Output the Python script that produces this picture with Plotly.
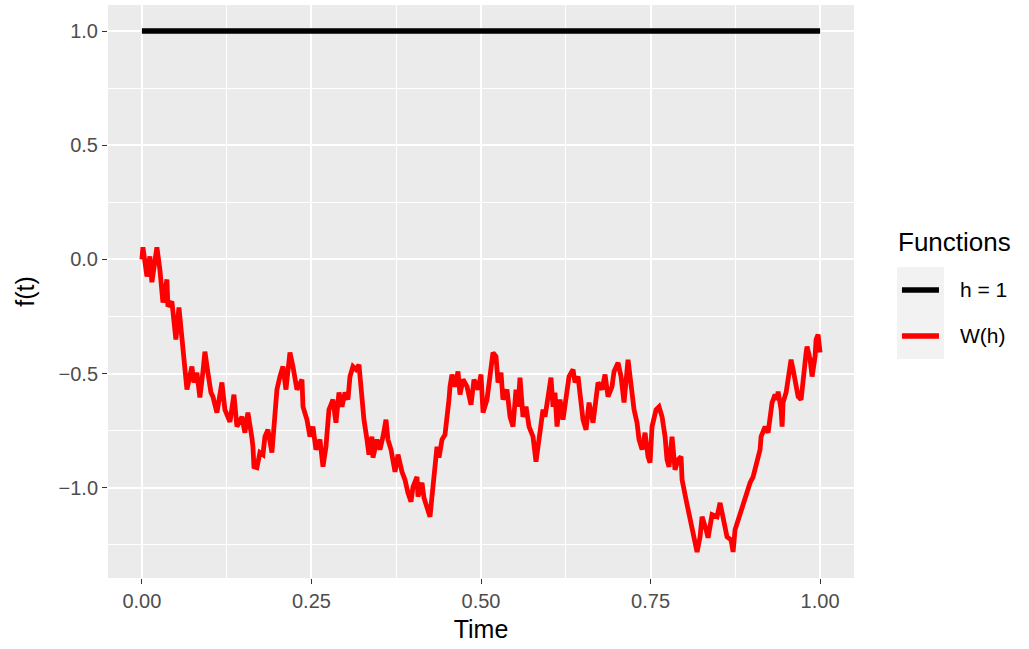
import plotly.graph_objects as go

# Sampled path of the Brownian motion W(h) on [0, 1]
time = [
    0.0, 0.0015, 0.0074, 0.0118, 0.0147, 0.0221, 0.0265, 0.0295, 0.031, 0.0369,
    0.0383, 0.0442, 0.0472, 0.0501, 0.0546, 0.059, 0.0634, 0.0664, 0.0737, 0.0767,
    0.0811, 0.0855, 0.090, 0.0929, 0.0973, 0.1018, 0.1047, 0.1106, 0.118, 0.1224,
    0.1298, 0.1357, 0.1401, 0.1475, 0.1519, 0.1563, 0.1622, 0.1637, 0.1652, 0.1696,
    0.174, 0.1785, 0.1814, 0.1858, 0.1917, 0.1962, 0.1991, 0.2035, 0.208, 0.2124,
    0.2183, 0.2227, 0.2286, 0.236, 0.2375, 0.2434, 0.2478, 0.2522, 0.2566, 0.2625,
    0.267, 0.2714, 0.2758, 0.2817, 0.2861, 0.2906, 0.295, 0.2994, 0.3038, 0.3068,
    0.3112, 0.3156, 0.3201, 0.323, 0.3274, 0.3319, 0.3348, 0.3392, 0.3407, 0.3466,
    0.351, 0.3555, 0.3599, 0.3628, 0.3673, 0.3732, 0.3776, 0.3835, 0.3879, 0.3923,
    0.3968, 0.3997, 0.4056, 0.4071, 0.413, 0.4159, 0.4218, 0.4248, 0.4277, 0.4292,
    0.4307, 0.4351, 0.4381, 0.4425, 0.4469, 0.4499, 0.4528, 0.4543, 0.4572, 0.4617,
    0.4661, 0.469, 0.4735, 0.4794, 0.4853, 0.4897, 0.4956, 0.50, 0.503, 0.5088,
    0.5133, 0.5177, 0.5221, 0.5251, 0.5295, 0.5324, 0.5383, 0.5428, 0.5472, 0.5516,
    0.5546, 0.5575, 0.5619, 0.5664, 0.5708, 0.5767, 0.5811, 0.5855, 0.5914, 0.5944,
    0.5988, 0.6032, 0.6062, 0.6091, 0.6121, 0.6165, 0.6209, 0.6254, 0.6298, 0.6357,
    0.6386, 0.6431, 0.646, 0.6504, 0.6549, 0.6593, 0.6652, 0.6696, 0.6726, 0.6785,
    0.6829, 0.6873, 0.6932, 0.6962, 0.7021, 0.7065, 0.7109, 0.7168, 0.7212, 0.7257,
    0.7301, 0.733, 0.7375, 0.7419, 0.7463, 0.7493, 0.7522, 0.7581, 0.7625, 0.767,
    0.7714, 0.7743, 0.7773, 0.7817, 0.7861, 0.7906, 0.795, 0.7965, 0.8024, 0.8068,
    0.8112, 0.8142, 0.8186, 0.823, 0.826, 0.8319, 0.8348, 0.8407, 0.8481, 0.8525,
    0.8569, 0.8628, 0.8687, 0.8717, 0.8746, 0.8791, 0.885, 0.8909, 0.8968, 0.9012,
    0.9056, 0.9086, 0.9115, 0.913, 0.9159, 0.9189, 0.9233, 0.9263, 0.9292, 0.9336,
    0.9366, 0.9381, 0.9425, 0.944, 0.9454, 0.9499, 0.9528, 0.9572, 0.9602, 0.9631,
    0.9676, 0.972, 0.9749, 0.9794, 0.9808, 0.9853, 0.9882, 0.9926, 0.9941, 0.997,
    1.0,
]
w_h = [
    0.0, 0.053, -0.075, 0.013, -0.10, 0.053, -0.044, -0.118, -0.189, -0.088,
    -0.206, -0.184, -0.263, -0.351, -0.211, -0.338, -0.439, -0.570, -0.469, -0.539,
    -0.496, -0.605, -0.491, -0.404, -0.496, -0.583, -0.601, -0.671, -0.539, -0.658,
    -0.711, -0.592, -0.732, -0.689, -0.759, -0.671, -0.781, -0.820, -0.908, -0.912,
    -0.846, -0.855, -0.776, -0.746, -0.846, -0.689, -0.570, -0.513, -0.469, -0.570,
    -0.408, -0.469, -0.570, -0.526, -0.645, -0.702, -0.776, -0.732, -0.833, -0.789,
    -0.908, -0.820, -0.658, -0.614, -0.715, -0.583, -0.645, -0.583, -0.614, -0.513,
    -0.469, -0.482, -0.461, -0.557, -0.702, -0.789, -0.855, -0.776, -0.868, -0.789,
    -0.833, -0.776, -0.702, -0.789, -0.833, -0.930, -0.855, -0.930, -0.965, -1.022,
    -1.061, -0.996, -0.952, -1.039, -0.978, -1.044, -1.110, -1.127, -1.039, -0.996,
    -0.908, -0.820, -0.868, -0.789, -0.768, -0.702, -0.614, -0.557, -0.504, -0.557,
    -0.491, -0.592, -0.526, -0.557, -0.636, -0.526, -0.570, -0.504, -0.671, -0.614,
    -0.513, -0.408, -0.425, -0.539, -0.496, -0.614, -0.570, -0.689, -0.732, -0.570,
    -0.645, -0.518, -0.689, -0.645, -0.732, -0.776, -0.886, -0.789, -0.658, -0.689,
    -0.601, -0.518, -0.645, -0.583, -0.732, -0.614, -0.702, -0.583, -0.513, -0.482,
    -0.539, -0.513, -0.583, -0.702, -0.746, -0.627, -0.715, -0.627, -0.539, -0.570,
    -0.504, -0.601, -0.557, -0.491, -0.452, -0.513, -0.627, -0.439, -0.557, -0.658,
    -0.715, -0.789, -0.833, -0.759, -0.864, -0.890, -0.732, -0.658, -0.645, -0.689,
    -0.776, -0.877, -0.908, -0.776, -0.921, -0.877, -0.864, -0.965, -1.053, -1.110,
    -1.184, -1.228, -1.281, -1.215, -1.127, -1.184, -1.219, -1.118, -1.127, -1.066,
    -1.140, -1.215, -1.228, -1.281, -1.184, -1.140, -1.096, -1.022, -0.978, -0.952,
    -0.908, -0.877, -0.833, -0.776, -0.759, -0.732, -0.759, -0.671, -0.627, -0.592,
    -0.614, -0.579, -0.658, -0.732, -0.627, -0.583, -0.526, -0.439, -0.482, -0.526,
    -0.601, -0.614, -0.513, -0.408, -0.382, -0.439, -0.513, -0.425, -0.351, -0.329,
    -0.408,
]
# Constant function h = 1
h_time = [0.0, 1.0]
h_value = [1.0, 1.0]

series_names = ["h = 1", "W(h)"]
series_colors = ["#000000", "#FF0000"]

x_ticks = [0.0, 0.25, 0.5, 0.75, 1.0]
x_tick_labels = ["0.00", "0.25", "0.50", "0.75", "1.00"]
x_minor = [0.125, 0.375, 0.625, 0.875]
y_ticks = [-1.0, -0.5, 0.0, 0.5, 1.0]
y_tick_labels = ["\u22121.0", "\u22120.5", "0.0", "0.5", "1.0"]
y_minor = [-1.25, -0.75, -0.25, 0.25, 0.75]

FONT = "Liberation Sans, Arial, sans-serif"

fig = go.Figure()
fig.add_trace(go.Scatter(x=h_time, y=h_value, mode="lines", name=series_names[0],
                         line=dict(color=series_colors[0], width=5.5), showlegend=False))
fig.add_trace(go.Scatter(x=time, y=w_h, mode="lines", name=series_names[1],
                         line=dict(color=series_colors[1], width=4.8), showlegend=False))

# ggplot-style 5% expansion of the data range
all_y = w_h + h_value
y_lo, y_hi = min(all_y), max(all_y)
pad_y = 0.05 * (y_hi - y_lo)
x_lo, x_hi = 0.0, 1.0
pad_x = 0.05 * (x_hi - x_lo)

# Hand-built legend: grey key boxes, coloured keys, labels and title
legend_x0, legend_x1 = 1.0576, 1.1206
key_tops = [0.5428, 0.4625]
key_h = 0.0803
shapes = []
annotations = []
for i, (name, color) in enumerate(zip(series_names, series_colors)):
    top = key_tops[i]
    shapes.append(dict(type="rect", xref="paper", yref="paper",
                       x0=legend_x0, x1=legend_x1, y0=top - key_h, y1=top,
                       fillcolor="#F2F2F2", line=dict(width=0), layer="below"))
    mid = top - key_h / 2
    shapes.append(dict(type="line", xref="paper", yref="paper",
                       x0=1.0643, x1=1.1139, y0=mid, y1=mid,
                       line=dict(color=color, width=5.5)))
    annotations.append(dict(x=1.1394, y=mid, xref="paper", yref="paper",
                            text=name, showarrow=False, xanchor="left", yanchor="middle",
                            font=dict(family=FONT, size=21, color="#000000")))
annotations.append(dict(x=1.056, y=0.5864, xref="paper", yref="paper",
                        text="Functions", showarrow=False, xanchor="left", yanchor="middle",
                        font=dict(family=FONT, size=26, color="#000000")))

fig.update_layout(
    width=1029, height=649,
    margin=dict(l=108, r=175, t=5, b=71),
    paper_bgcolor="white",
    plot_bgcolor="#EBEBEB",
    font=dict(family=FONT, color="#000000"),
    shapes=shapes,
    annotations=annotations,
    showlegend=False,
)
fig.update_xaxes(
    range=[x_lo - pad_x, x_hi + pad_x],
    tickvals=x_ticks, ticktext=x_tick_labels,
    ticks="outside", ticklen=5, tickwidth=1.2, tickcolor="#333333",
    tickfont=dict(family=FONT, size=20, color="#4D4D4D"),
    showgrid=True, gridcolor="white", gridwidth=1.6,
    minor=dict(tickvals=x_minor, showgrid=True, gridcolor="white", gridwidth=0.7, ticklen=0),
    zeroline=False, showline=False,
    title=dict(text="Time", font=dict(family=FONT, size=25, color="#000000"), standoff=9),
)
fig.update_yaxes(
    range=[y_lo - pad_y, y_hi + pad_y],
    tickvals=y_ticks, ticktext=y_tick_labels,
    ticks="outside", ticklen=5, tickwidth=1.2, tickcolor="#333333",
    tickfont=dict(family=FONT, size=20, color="#4D4D4D"),
    showgrid=True, gridcolor="white", gridwidth=1.6,
    minor=dict(tickvals=y_minor, showgrid=True, gridcolor="white", gridwidth=0.7, ticklen=0),
    zeroline=False, showline=False,
    title=dict(text="f(t)", font=dict(family=FONT, size=25, color="#000000"), standoff=16),
)

fig.write_html("out.html")
